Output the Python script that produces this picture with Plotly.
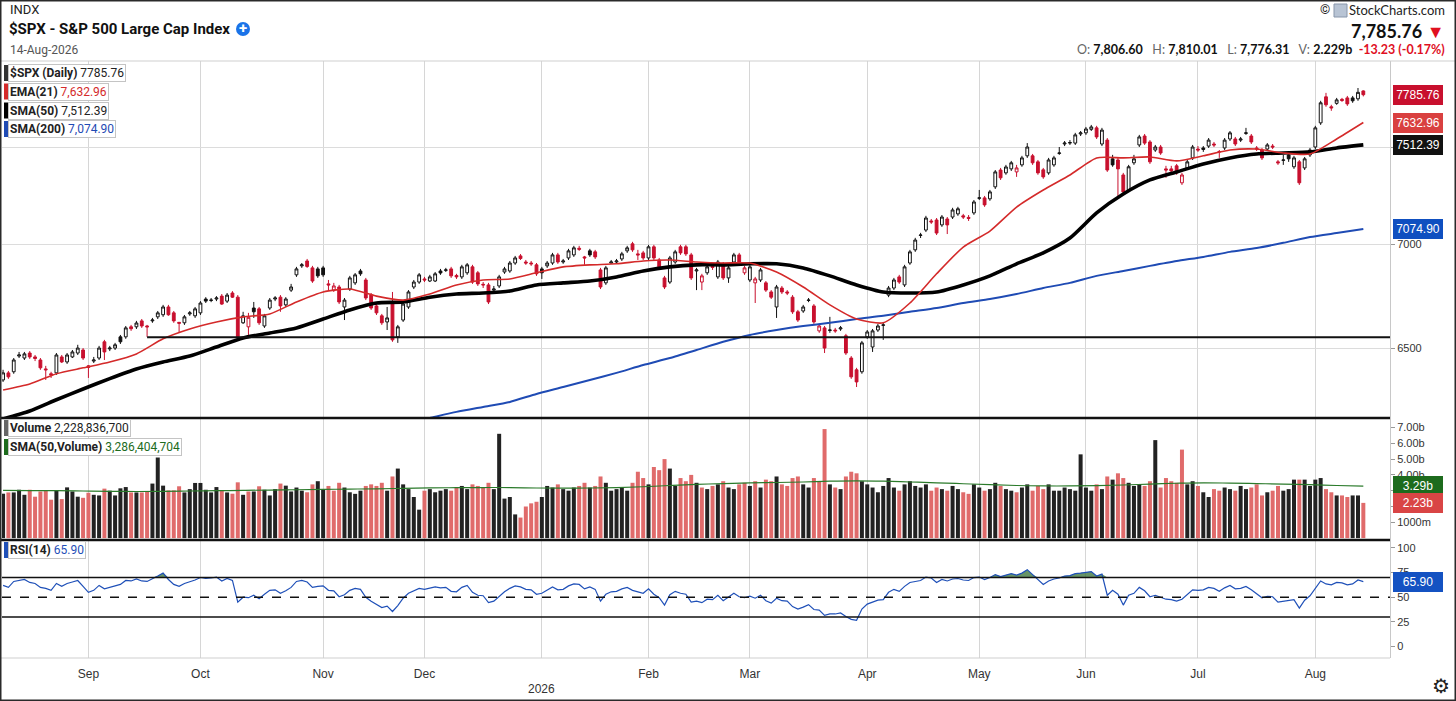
import math
import pandas as pd
import plotly.graph_objects as go

# sessions shown on the chart (a few empty ones on the right)
holidays = ["2025-09-01", "2025-11-27", "2025-12-25", "2026-01-01", "2026-01-19",
            "2026-02-16", "2026-04-03", "2026-05-25", "2026-06-19", "2026-07-03"]
sessions = [d.strftime("%Y-%m-%d") for d in pd.bdate_range("2025-08-08", "2026-08-24")
            if d.strftime("%Y-%m-%d") not in holidays]

opens = [6354, 6386, 6391, 6463, 6454, 6477, 6459, 6445, 6404, 6382, 6386, 6459, 6436, 6459, 6477, 6491,
         6418, 6440, 6454, 6529, 6496, 6500, 6552, 6552, 6599, 6599, 6627, 6603, 6627, 6646, 6656, 6693,
         6665, 6620, 6618, 6660, 6651, 6665, 6731, 6724, 6731, 6745, 6721, 6760, 6740, 6618, 6599, 6688,
         6684, 6603, 6688, 6731, 6740, 6703, 6774, 6848, 6892, 6916, 6882, 6877, 6882, 6804, 6774, 6789,
         6693, 6779, 6809, 6867, 6823, 6750, 6698, 6651, 6622, 6712, 6552, 6631, 6693, 6789, 6813, 6828,
         6818, 6818, 6867, 6870, 6877, 6845, 6838, 6858, 6887, 6858, 6802, 6799, 6774, 6794, 6862, 6867,
         6906, 6941, 6911, 6906, 6897, 6877, 6892, 6906, 6946, 6911, 6931, 6946, 6979, 6936, 6966, 6961,
         6872, 6809, 6906, 6911, 6926, 6966, 7001, 6951, 6956, 6931, 6986, 6921, 6833, 6813, 6911, 6986,
         6986, 6946, 6867, 6813, 6858, 6897, 6838, 6902, 6833, 6911, 6946, 6858, 6823, 6809, 6823, 6809,
         6765, 6693, 6784, 6765, 6740, 6670, 6674, 6724, 6698, 6580, 6594, 6582, 6584, 6589, 6557, 6454,
         6400, 6391, 6552, 6505, 6584, 6606, 6750, 6784, 6838, 6799, 6906, 6971, 7043, 7070, 7116, 7121,
         7096, 7126, 7136, 7152, 7142, 7134, 7157, 7232, 7234, 7229, 7291, 7379, 7364, 7385, 7369, 7406,
         7454, 7454, 7422, 7380, 7364, 7406, 7467, 7517, 7522, 7522, 7571, 7577, 7596, 7604, 7517, 7538,
         7438, 7432, 7353, 7275, 7417, 7512, 7560, 7528, 7485, 7501, 7385, 7385, 7401, 7312, 7390, 7443,
         7490, 7496, 7506, 7517, 7477, 7496, 7544, 7544, 7538, 7574, 7560, 7496, 7485, 7490, 7506, 7422,
         7430, 7459, 7396, 7422, 7390, 7459, 7501, 7631, 7774, 7719, 7738, 7760, 7768, 7768, 7763, 7806.60]
highs = [6400, 6395, 6454, 6482, 6482, 6486, 6468, 6454, 6418, 6391, 6477, 6468, 6477, 6491, 6515, 6500,
         6422, 6459, 6510, 6538, 6510, 6524, 6561, 6603, 6608, 6627, 6636, 6608, 6641, 6674, 6703, 6703,
         6674, 6622, 6655, 6674, 6693, 6721, 6740, 6736, 6745, 6755, 6760, 6769, 6750, 6670, 6665, 6717,
         6693, 6660, 6736, 6745, 6750, 6740, 6804, 6887, 6906, 6926, 6892, 6887, 6892, 6823, 6809, 6799,
         6736, 6843, 6857, 6877, 6833, 6760, 6707, 6660, 6693, 6765, 6608, 6717, 6774, 6823, 6857, 6838,
         6848, 6862, 6877, 6882, 6887, 6853, 6897, 6906, 6897, 6867, 6813, 6809, 6794, 6848, 6887, 6916,
         6941, 6950, 6921, 6916, 6906, 6887, 6916, 6956, 6956, 6926, 6976, 6991, 6991, 6941, 6976, 6971,
         6882, 6892, 6921, 6926, 6961, 6991, 7011, 6971, 6966, 6996, 6996, 6931, 6843, 6941, 6971, 6996,
         6996, 6956, 6882, 6853, 6897, 6906, 6921, 6911, 6892, 6956, 6956, 6892, 6897, 6838, 6882, 6818,
         6774, 6799, 6794, 6774, 6750, 6679, 6703, 6736, 6707, 6613, 6603, 6646, 6594, 6603, 6566, 6463,
         6409, 6533, 6584, 6589, 6613, 6618, 6794, 6833, 6848, 6897, 6971, 7031, 7056, 7142, 7126, 7131,
         7146, 7136, 7183, 7188, 7152, 7146, 7223, 7275, 7244, 7275, 7379, 7390, 7406, 7427, 7406, 7454,
         7522, 7464, 7432, 7390, 7443, 7454, 7501, 7533, 7538, 7577, 7587, 7609, 7620, 7615, 7604, 7549,
         7459, 7443, 7364, 7406, 7459, 7566, 7571, 7538, 7512, 7512, 7401, 7401, 7411, 7364, 7432, 7512,
         7506, 7506, 7549, 7528, 7485, 7549, 7587, 7555, 7555, 7604, 7571, 7506, 7496, 7522, 7517, 7432,
         7459, 7469, 7454, 7432, 7448, 7496, 7615, 7752, 7796, 7730, 7768, 7768, 7779, 7779, 7823, 7810.01]
lows = [6345, 6359, 6382, 6454, 6445, 6450, 6440, 6400, 6354, 6363, 6377, 6431, 6427, 6454, 6468, 6445,
        6363, 6431, 6445, 6445, 6486, 6491, 6519, 6543, 6580, 6589, 6594, 6552, 6618, 6636, 6646, 6651,
        6618, 6571, 6608, 6651, 6641, 6655, 6712, 6716, 6721, 6703, 6712, 6736, 6547, 6613, 6561, 6641,
        6608, 6594, 6679, 6721, 6670, 6693, 6765, 6838, 6882, 6882, 6809, 6833, 6838, 6774, 6765, 6707,
        6631, 6770, 6799, 6843, 6726, 6679, 6655, 6608, 6584, 6529, 6524, 6622, 6684, 6779, 6804, 6813,
        6813, 6813, 6848, 6862, 6833, 6828, 6828, 6848, 6804, 6794, 6784, 6707, 6765, 6784, 6853, 6858,
        6897, 6921, 6897, 6892, 6843, 6828, 6882, 6897, 6902, 6902, 6921, 6936, 6966, 6897, 6936, 6926,
        6779, 6799, 6902, 6906, 6916, 6956, 6961, 6921, 6921, 6921, 6921, 6877, 6779, 6804, 6902, 6946,
        6941, 6823, 6774, 6774, 6848, 6872, 6828, 6823, 6809, 6902, 6897, 6848, 6813, 6712, 6813, 6765,
        6731, 6641, 6755, 6750, 6660, 6622, 6665, 6716, 6613, 6571, 6477, 6571, 6571, 6580, 6468, 6359,
        6322, 6382, 6543, 6482, 6575, 6538, 6740, 6774, 6804, 6789, 6897, 6961, 7030, 7060, 7101, 7045,
        7086, 7050, 7126, 7142, 7126, 7116, 7147, 7223, 7188, 7219, 7280, 7327, 7354, 7374, 7343, 7396,
        7443, 7406, 7354, 7333, 7354, 7396, 7459, 7506, 7512, 7512, 7560, 7566, 7587, 7544, 7506, 7369,
        7396, 7239, 7255, 7265, 7406, 7501, 7512, 7411, 7475, 7459, 7338, 7359, 7354, 7301, 7380, 7432,
        7475, 7475, 7496, 7501, 7443, 7485, 7533, 7506, 7528, 7566, 7517, 7480, 7432, 7480, 7490, 7406,
        7406, 7422, 7385, 7301, 7379, 7448, 7490, 7620, 7719, 7697, 7730, 7746, 7724, 7741, 7752, 7776.31]
closes = [6386, 6368, 6445, 6468, 6473, 6459, 6452, 6409, 6400, 6377, 6468, 6436, 6468, 6482, 6500, 6454,
          6411, 6445, 6500, 6482, 6500, 6515, 6529, 6594, 6590, 6617, 6603, 6599, 6631, 6665, 6693, 6656,
          6627, 6616, 6646, 6665, 6684, 6712, 6721, 6726, 6736, 6707, 6750, 6740, 6552, 6651, 6644, 6670,
          6618, 6651, 6726, 6736, 6698, 6731, 6789, 6877, 6897, 6889, 6818, 6843, 6848, 6799, 6794, 6717,
          6726, 6833, 6848, 6853, 6736, 6688, 6665, 6618, 6641, 6538, 6599, 6707, 6765, 6813, 6848, 6823,
          6838, 6853, 6857, 6872, 6843, 6838, 6887, 6897, 6813, 6804, 6799, 6717, 6779, 6838, 6877, 6906,
          6931, 6928, 6906, 6902, 6853, 6858, 6906, 6946, 6911, 6916, 6966, 6981, 6974, 6931, 6946, 6936,
          6789, 6882, 6911, 6916, 6951, 6981, 6971, 6946, 6931, 6986, 6931, 6887, 6789, 6931, 6961, 6956,
          6951, 6833, 6872, 6843, 6887, 6884, 6911, 6833, 6882, 6946, 6906, 6882, 6887, 6828, 6872, 6774,
          6740, 6789, 6765, 6760, 6670, 6631, 6693, 6726, 6622, 6603, 6500, 6584, 6580, 6594, 6477, 6368,
          6345, 6524, 6575, 6580, 6603, 6608, 6784, 6823, 6813, 6887, 6961, 7020, 7045, 7131, 7111, 7055,
          7136, 7096, 7172, 7178, 7136, 7129, 7213, 7234, 7198, 7265, 7369, 7338, 7395, 7417, 7390, 7443,
          7501, 7417, 7364, 7343, 7432, 7443, 7469, 7522, 7525, 7566, 7577, 7598, 7609, 7555, 7592, 7379,
          7406, 7385, 7265, 7396, 7438, 7555, 7522, 7422, 7501, 7469, 7379, 7374, 7364, 7353, 7422, 7501,
          7485, 7488, 7538, 7512, 7475, 7538, 7577, 7517, 7544, 7577, 7528, 7490, 7443, 7512, 7501, 7417,
          7432, 7438, 7443, 7312, 7438, 7485, 7604, 7741, 7730, 7713, 7757, 7754, 7735, 7752, 7798.99, 7785.76]

# billions of shares
volume = [2.81, 2.89, 2.89, 3.06, 2.74, 3.06, 2.62, 2.95, 3.02, 2.43, 3.02, 2.47, 3.21, 2.95, 2.62, 2.55,
          2.87, 2.74, 2.70, 3.13, 3.00, 2.70, 3.15, 3.23, 2.89, 2.89, 2.89, 2.95, 3.45, 5.10, 3.32, 3.02,
          3.02, 3.28, 2.89, 3.10, 3.49, 3.49, 3.06, 2.89, 3.23, 3.02, 2.89, 2.81, 3.53, 2.74, 2.95, 2.95,
          3.28, 3.06, 2.70, 3.10, 3.45, 3.32, 2.95, 3.2, 3.0, 2.9, 3.4, 3.6, 3.1, 3.3, 3.0, 3.5,
          3.2, 2.9, 2.8, 3.0, 3.3, 3.4, 3.3, 3.5, 3.0, 3.9, 4.4, 3.4, 3.1, 2.6, 1.8, 3.0,
          3.1, 2.9, 3.0, 3.1, 3.0, 3.2, 3.3, 3.1, 3.4, 3.3, 3.2, 3.5, 3.1, 6.6, 2.5, 2.6,
          1.5, 1.3, 2.0, 2.2, 2.3, 2.6, 3.3, 3.2, 3.4, 3.1, 3.0, 3.2, 3.3, 3.5, 3.2, 3.3,
          3.9, 3.5, 3.0, 3.1, 3.2, 3.0, 3.5, 4.2, 3.8, 3.4, 4.5, 4.3, 5.0, 4.4, 3.3, 3.8,
          3.6, 4.0, 3.5, 3.2, 3.1, 3.3, 3.4, 3.6, 3.2, 3.1, 3.4, 3.5, 3.3, 3.6, 3.2, 3.7,
          3.6, 3.9, 3.4, 3.3, 3.8, 3.9, 3.4, 3.2, 3.8, 3.6, 6.9, 3.4, 3.2, 3.1, 3.9, 4.2,
          4.1, 3.6, 3.4, 3.2, 2.9, 3.3, 3.8, 3.2, 3.0, 3.4, 3.6, 3.3, 3.2, 3.4, 3.0, 3.2,
          3.1, 3.0, 3.3, 3.1, 2.9, 2.8, 3.4, 3.2, 3.0, 3.1, 3.5, 3.3, 3.1, 3.0, 2.9, 3.2,
          3.4, 3.0, 3.3, 3.1, 3.4, 3.0, 3.0, 3.2, 3.1, 3.0, 5.3, 3.2, 3.0, 3.4, 3.1, 3.9,
          3.7, 4.1, 3.8, 3.5, 3.3, 3.4, 3.3, 3.6, 6.2, 3.2, 3.8, 3.6, 3.5, 5.6, 3.4, 3.6,
          3.3, 2.9, 2.6, 3.1, 3.0, 3.2, 3.1, 3.0, 3.3, 3.1, 3.2, 3.4, 2.7, 2.9, 3.0, 3.3,
          3.0, 3.1, 3.7, 3.7, 3.7, 3.3, 3.7, 3.8, 3.1, 2.9, 2.7, 2.7, 2.6, 2.7, 2.7, 2.2288367]

rsi = [62, 60, 66, 67, 68, 65, 64, 60, 59, 57, 64, 61, 64, 65.5, 67, 61,
       55, 57, 62, 58.5, 60, 61.5, 63, 67, 66.5, 68.5, 66.5, 66, 68.5, 71.5, 74.5, 68,
       63, 61, 64, 65.5, 67.5, 70, 69, 69.5, 70.5, 66.5, 69, 67, 45, 50, 49.5, 52,
       48.5, 53, 57, 57.5, 54, 56.5, 60, 66, 67, 65.5, 60, 61, 61.5, 57, 56.5, 50.5,
       52.5, 57, 59, 58, 50, 46, 43, 39.5, 41, 35.5, 41.5, 49, 54, 56.5, 59, 58,
       59, 60.5, 59.5, 60, 56, 55.5, 60, 62, 55, 52, 51.5, 44.5, 46, 51, 55.5, 59,
       61.5, 60.5, 58, 57.5, 53, 54, 57, 60.5, 57.5, 58, 61.5, 63.5, 63, 58.5, 60.5, 58,
       46, 53, 55.5, 56, 58.5, 60, 57, 55.5, 54, 58.5, 53, 49.5, 42, 52.5, 56, 54,
       53, 45, 46, 44.5, 48, 47.5, 52, 46.5, 50, 54, 50.5, 49.5, 51, 49, 52, 46.5,
       44, 49, 46.5, 46, 40.5, 38, 40, 42.5, 37.5, 37, 31.5, 33, 33, 34, 30.5, 27.5,
       26.5, 38, 43, 45, 47, 47.5, 55, 58, 56, 61, 65, 66, 67, 70.5, 69.5, 65,
       68, 66.5, 68.5, 69, 67.5, 67, 70, 70.5, 68, 70, 73, 71, 72.5, 74, 72.5, 74.5,
       78, 73, 67, 63, 66.5, 68.5, 69.5, 71.5, 72, 74, 74.5, 75.5, 76, 71.5, 73.5, 52,
       57, 53, 42, 52, 54, 60, 56.5, 50.5, 52, 50, 48, 47.5, 46, 48, 52.5, 57.5,
       57, 57.5, 60, 59, 56, 59.5, 62, 58.5, 59, 61, 57.5, 53.5, 49.5, 51, 50.5, 45,
       46, 46.5, 47.5, 39, 47, 51.5, 59, 66.5, 63.5, 62.5, 65, 64.5, 62.5, 63.5, 67.5, 65.9]

# moving averages, one value every 5th session
ema21 = [6309, 6336, 6382, 6409, 6436, 6473, 6543, 6589, 6622, 6646, 6660, 6717, 6765, 6779, 6745, 6726,
         6755, 6799, 6823, 6828, 6858, 6887, 6897, 6902, 6916, 6921, 6911, 6906, 6906, 6862, 6789, 6703,
         6636, 6618, 6712, 6853, 6985, 7065, 7187, 7275, 7353, 7443, 7443, 7448, 7427, 7454, 7485, 7490,
         7469, 7464, 7544, 7632.96]
sma50 = [6180, 6215, 6265, 6313, 6360, 6404, 6436, 6463, 6505, 6547, 6570, 6594, 6636, 6679, 6712, 6717,
         6740, 6755, 6760, 6770, 6799, 6809, 6818, 6838, 6867, 6887, 6897, 6897, 6902, 6902, 6882, 6843,
         6799, 6765, 6760, 6765, 6799, 6843, 6902, 6956, 7030, 7157, 7254, 7327, 7369, 7411, 7443, 7464,
         7469, 7475, 7496, 7512.39]
sma200_start = 75
sma200 = [6157, 6184, 6211, 6233, 6255, 6291, 6322, 6354, 6386, 6422, 6454, 6491, 6529, 6561, 6584, 6603,
          6618, 6636, 6651, 6670, 6688, 6712, 6731, 6755, 6784, 6809, 6843, 6867, 6892, 6916, 6936, 6961,
          6980, 7006, 7035, 7055, 7074.90]
vol_sma50 = [3.02, 3.01, 3.00, 2.98, 2.96, 2.95, 2.96, 2.98, 3.00, 3.02, 3.04, 3.06, 3.08, 3.10, 3.12, 3.15,
             3.18, 3.19, 3.20, 3.20, 3.17, 3.16, 3.17, 3.20, 3.25, 3.33, 3.40, 3.45, 3.50, 3.52, 3.55, 3.60,
             3.62, 3.60, 3.55, 3.50, 3.44, 3.38, 3.33, 3.30, 3.30, 3.32, 3.36, 3.42, 3.47, 3.50, 3.48, 3.45,
             3.42, 3.38, 3.33, 3.286404704]

support = 6550
support_from = 27

RED = "#c8102e"
BLK = "#111111"

n = len(closes)
dates = sessions[:n]
up = [i == 0 or closes[i] >= closes[i - 1] for i in range(n)]


def pick(a, idx):
    return [a[i] for i in idx]


fig = go.Figure()

# price panel
for idx, col in [([i for i in range(n) if up[i]], BLK), ([i for i in range(n) if not up[i]], RED)]:
    fig.add_trace(go.Candlestick(
        x=pick(dates, idx), open=pick(opens, idx), high=pick(highs, idx),
        low=pick(lows, idx), close=pick(closes, idx),
        increasing=dict(line=dict(color=col, width=1), fillcolor="white"),
        decreasing=dict(line=dict(color=col, width=1), fillcolor=col),
        whiskerwidth=0, hoverinfo="skip", xaxis="x", yaxis="y"))

ma_x = dates[0:n:5]
fig.add_trace(go.Scatter(x=dates[sma200_start:n:5], y=sma200, mode="lines",
                         line=dict(color="#1f4bb4", width=2, shape="spline", smoothing=0.6), yaxis="y"))
fig.add_trace(go.Scatter(x=ma_x, y=sma50, mode="lines",
                         line=dict(color="#000000", width=3.6, shape="spline", smoothing=0.6), yaxis="y"))
fig.add_trace(go.Scatter(x=ma_x, y=ema21, mode="lines",
                         line=dict(color="#d42a2a", width=1.6, shape="spline", smoothing=0.6), yaxis="y"))
fig.add_trace(go.Scatter(x=[dates[support_from], sessions[-1]], y=[support, support], mode="lines",
                         line=dict(color="#111", width=2), yaxis="y"))

# volume panel
fig.add_trace(go.Bar(x=dates, y=volume, marker=dict(color=["#222222" if u else "#e06b6b" for u in up], line_width=0),
                     yaxis="y2"))
fig.add_trace(go.Scatter(x=ma_x, y=vol_sma50, mode="lines",
                         line=dict(color="#2a7a2a", width=1.2, shape="spline"), yaxis="y2"))

# rsi panel
fig.add_trace(go.Scatter(x=dates, y=[70] * n, mode="lines", line=dict(width=0), yaxis="y3"))
fig.add_trace(go.Scatter(x=dates, y=[max(r, 70) for r in rsi], mode="lines", line=dict(width=0),
                         fill="tonexty", fillcolor="rgba(52,112,52,0.75)", yaxis="y3"))
fig.add_trace(go.Scatter(x=dates, y=rsi, mode="lines", line=dict(color="#1f50b8", width=1.2), yaxis="y3"))

# month ticks
month_starts = [d for k, d in enumerate(dates) if k > 0 and d[5:7] != dates[k - 1][5:7]]
month_text = [pd.Timestamp(d).strftime("%b") if d[5:7] != "01" else "" for d in month_starts]
jan = [d for d in month_starts if d[5:7] == "01"][0]

W, H = 1456, 701
X1 = 1390 / W


def py(p):
    return 1 - p / H


axis_font = dict(family="Liberation Sans, Arial, sans-serif", size=11, color="#333")
fig.update_layout(
    width=W, height=H, margin=dict(l=0, r=0, t=0, b=0),
    paper_bgcolor="white", plot_bgcolor="white", showlegend=False, bargap=0.25, boxgap=0.25,
    font=dict(family="Roboto, sans-serif", color="#222"),
    xaxis=dict(type="category", categoryorder="array", categoryarray=sessions,
               range=[-0.2, 260.0], domain=[2 / W, X1], anchor="y3",
               tickvals=month_starts, ticktext=month_text, showgrid=True, gridcolor="#d6d6d6",
               ticks="outside", ticklen=5, tickcolor="rgba(0,0,0,0)",
               tickfont=dict(family="Liberation Sans, Arial, sans-serif", size=12, color="#333"),
               rangeslider=dict(visible=False), showline=False, zeroline=False),
    # 7500, 2.00b and 3.00b sit under the value tags, as on the original
    yaxis=dict(domain=[py(418), py(61)], type="log", range=[3.79127, 3.90173], side="right",
               anchor="x", tickvals=[6500, 7000, 7500], ticktext=["6500", "7000", ""],
               showgrid=True, gridcolor="#dcdcdc", ticks="outside", ticklen=4, tickcolor="#999",
               showline=True, linecolor="#c8c8c8", tickfont=axis_font),
    yaxis2=dict(domain=[py(540), py(418)], range=[-0.12, 7.6], side="right", anchor="x",
                tickvals=[1, 2, 3, 4, 5, 6, 7],
                ticktext=["1000m", "", "", "4.00b", "5.00b", "6.00b", "7.00b"],
                showgrid=False, zeroline=False, ticks="outside", ticklen=4, tickcolor="#999",
                showline=True, linecolor="#c8c8c8", tickfont=axis_font),
    yaxis3=dict(domain=[py(658), py(540)], range=[-11.7, 108.1], side="right", anchor="x",
                tickvals=[0, 25, 50, 75, 100], showgrid=False, zeroline=False,
                ticks="outside", ticklen=4, tickcolor="#999",
                showline=True, linecolor="#c8c8c8", tickfont=axis_font),
)

shapes = [
    dict(type="line", xref="paper", yref="paper", x0=0, x1=1, y0=py(61), y1=py(61),
         line=dict(color="#cfcfcf", width=1)),
    dict(type="line", xref="paper", yref="paper", x0=0, x1=X1, y0=py(418), y1=py(418),
         line=dict(color="#111", width=2.5)),
    dict(type="line", xref="paper", yref="paper", x0=0, x1=X1, y0=py(540), y1=py(540),
         line=dict(color="#111", width=2.5)),
    dict(type="line", xref="paper", yref="paper", x0=0, x1=X1, y0=py(658), y1=py(658),
         line=dict(color="#cfcfcf", width=1)),
    dict(type="line", xref="x domain", yref="y3", x0=0, x1=1, y0=70, y1=70, line=dict(color="#111", width=1.5)),
    dict(type="line", xref="x domain", yref="y3", x0=0, x1=1, y0=30, y1=30, line=dict(color="#111", width=1.5)),
    dict(type="line", xref="x domain", yref="y3", x0=0, x1=1, y0=50, y1=50,
         line=dict(color="#111", width=1.5, dash="dash")),
    dict(type="rect", xref="paper", yref="paper", x0=0, x1=1, y0=0, y1=1, line=dict(color="#2a2a2a", width=3)),
    dict(type="circle", xref="paper", yref="paper", x0=236 / W, x1=250 / W, y0=py(36), y1=py(22),
         fillcolor="#1a73e8", line_width=0),
    dict(type="rect", xref="paper", yref="paper", x0=1334 / W, x1=1347 / W, y0=py(17), y1=py(4),
         fillcolor="#b8c4d4", line=dict(color="#8896aa", width=1)),
]

ann = []


def text(x, y, s, size=12, color="#222", anchor="left", weight="normal", family="Roboto, sans-serif"):
    ann.append(dict(xref="paper", yref="paper", x=x / W, y=py(y), xanchor=anchor, yanchor="middle",
                    text=s, showarrow=False, font=dict(size=size, color=color, weight=weight, family=family)))


# header
text(8, 10, "INDX", 13)
text(7, 29, "$SPX - S&amp;P 500 Large Cap Index", 15, "#111", weight="bold")
text(243, 28.5, "+", 15, "white", anchor="center", weight="bold")
text(8, 50, "14-Aug-2026", 12, "#555")
text(1332, 10, "©", 13, "#222", anchor="right")
text(1447, 10, "StockCharts.com", 13, "#222", anchor="right", family="Lato, sans-serif")
last, prev = closes[-1], closes[-2]
text(1447, 31, f"<b>{last:,.2f}</b> <span style='color:#e0101f'>▼</span>", 18, "#111", anchor="right",
     family="Lato, sans-serif")
chg = last - prev
text(1447, 50,
     f"<span style='color:#666'>O:</span> <b>{opens[-1]:,.2f}</b>   <span style='color:#666'>H:</span> "
     f"<b>{highs[-1]:,.2f}</b>   <span style='color:#666'>L:</span> <b>{lows[-1]:,.2f}</b>   "
     f"<span style='color:#666'>V:</span> <b>{volume[-1]:.3f}b</b>  "
     f"<b><span style='color:#e0101f'>{chg:.2f} ({chg / prev * 100:.2f}%)</span></b>",
     12.5, "#111", anchor="right", family="Lato, sans-serif")

# legend boxes
legend = [
    (73, "#333333", "$SPX (Daily)", f"{last:.2f}", "#222"),
    (91.5, "#d42a2a", "EMA(21)", f"{ema21[-1]:,.2f}", "#d42a2a"),
    (110.5, "#000000", "SMA(50)", f"{sma50[-1]:,.2f}", "#222"),
    (129, "#1f4bb4", "SMA(200)", f"{sma200[-1]:,.2f}", "#1f4bb4"),
    (428, "#666666", "Volume", f"{volume[-1] * 1e9:,.0f}", "#222"),
    (447, "#1d6b1d", "SMA(50,Volume)", f"{vol_sma50[-1] * 1e9:,.0f}", "#1d6b1d"),
    (550, "#1f50b8", "RSI(14)", f"{rsi[-1]:.2f}", "#1f50b8"),
]
for yy, bar, label, val, vcol in legend:
    shapes.append(dict(type="rect", xref="paper", yref="paper", x0=4 / W, x1=8 / W,
                       y0=py(yy + 8), y1=py(yy - 8), fillcolor=bar, line_width=0))
    ann.append(dict(xref="paper", yref="paper", x=8 / W, y=py(yy), xanchor="left", yanchor="middle",
                    text=f"<b>{label}</b> <span style='color:{vcol}'>{val}</span>", showarrow=False,
                    bgcolor="white", bordercolor="#c4c4c4", borderwidth=1, borderpad=1,
                    font=dict(size=12, color="#222", family="Roboto, sans-serif")))

# value tags on the right axis
tags = [
    ("y", math.log10(last), f"{last:.2f}", "#c8102e"),
    ("y", math.log10(ema21[-1]), f"{ema21[-1]:.2f}", "#d94040"),
    ("y", math.log10(sma50[-1]), f"{sma50[-1]:.2f}", "#111111"),
    ("y", math.log10(sma200[-1]), f"{sma200[-1]:.2f}", "#0f4fc0"),
    ("y2", vol_sma50[-1], f"{vol_sma50[-1]:.2f}b", "#1d6b1d"),
    ("y2", volume[-1], f"{volume[-1]:.2f}b", "#d94545"),
    ("y3", rsi[-1], f"{rsi[-1]:.2f}", "#1452c2"),
]
for yref, yv, s, col in tags:
    ann.append(dict(xref="paper", x=1393 / W, xanchor="left", yref=yref, y=yv, yanchor="middle",
                    text=s, showarrow=False, bgcolor=col, bordercolor=col, borderwidth=1, borderpad=2,
                    width=44, align="center",
                    font=dict(size=12, color="white", family="Liberation Sans, Arial, sans-serif")))

ann.append(dict(xref="x", yref="paper", x=jan, y=py(689), yanchor="middle", text="2026", showarrow=False,
                font=dict(size=12, color="#333", family="Liberation Sans, Arial, sans-serif")))
text(1441, 686, "⚙", 20, "#222", anchor="center")

fig.update_layout(shapes=shapes, annotations=ann)
fig.write_html("out.html", config={"displayModeBar": False},
               post_script="document.body.style.margin='0px';")
